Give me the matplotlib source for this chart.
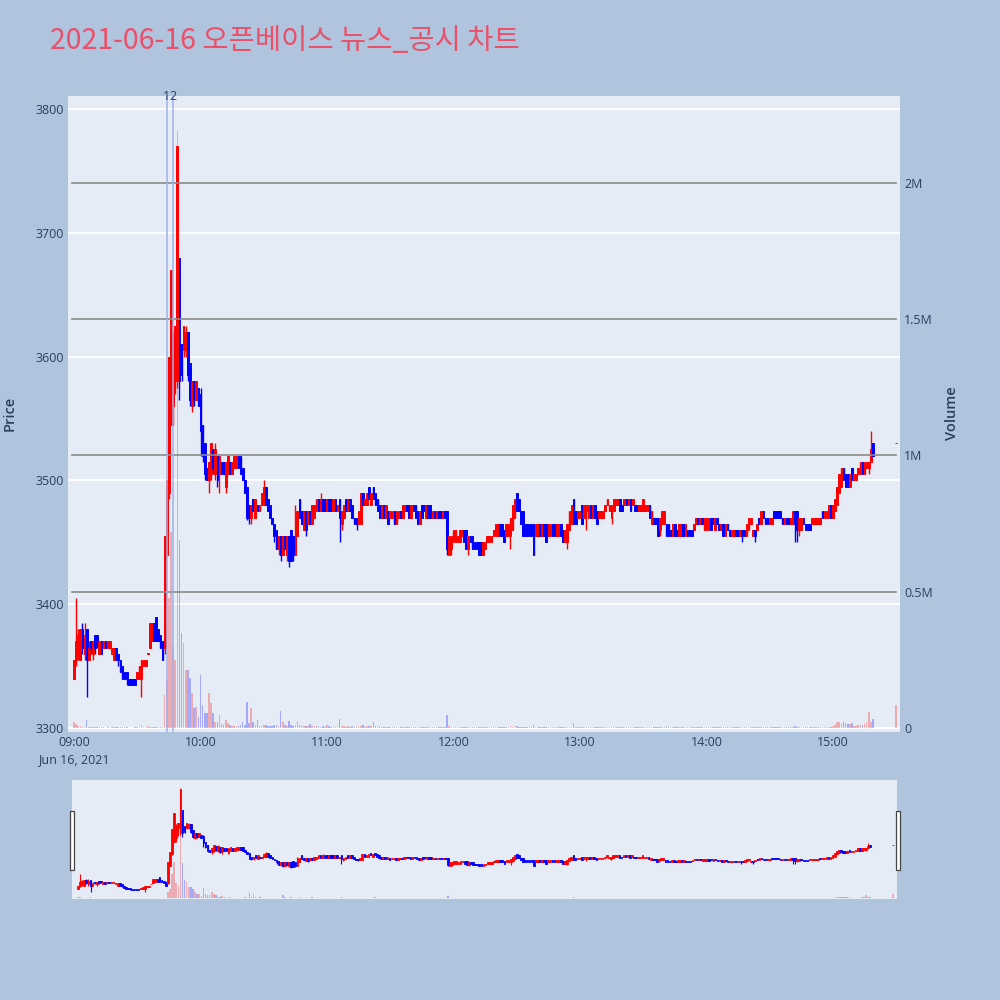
import matplotlib
matplotlib.use("Agg")
import matplotlib.pyplot as plt
from matplotlib.patches import Rectangle

# ---------------- data (minutes after 09:00) ----------------
minutes = list(range(0, 380)) + [390]

opens = [
3340,3355,3360,3355,3380,3360,3380,3355,3370,3360,3375,3375,3360,3370,3365,3370,3365,3365,3360,3355,
3365,3360,3355,3350,3345,3345,3340,3340,3340,3340,3340,3340,3340,3350,3350,3360,3365,3370,3385,3390,
3380,3375,3370,3365,3440,3490,3545,3560,3605,3580,3680,3610,3605,3605,3620,3595,3560,3580,3565,3575,
3570,3545,3530,3510,3500,3505,3525,3505,3520,3505,3515,3515,3495,3505,3515,3505,3510,3510,3520,3520,
3510,3500,3495,3480,3470,3485,3470,3480,3475,3480,3480,3495,3485,3480,3470,3465,3460,3445,3455,3440,
3455,3440,3455,3460,3455,3440,3455,3485,3475,3460,3475,3465,3475,3465,3470,3475,3485,3475,3485,3485,
3475,3485,3485,3475,3485,3475,3485,3465,3470,3485,3475,3485,3480,3470,3470,3465,3465,3490,3480,3480,
3495,3480,3495,3490,3485,3480,3470,3480,3470,3475,3470,3470,3475,3465,3470,3475,3470,3475,3480,3480,
3470,3480,3480,3475,3465,3480,3480,3470,3480,3480,3470,3475,3470,3475,3475,3470,3475,3475,3440,3445,
3450,3450,3450,3450,3455,3460,3460,3445,3455,3455,3450,3450,3450,3450,3440,3445,3450,3450,3450,3455,
3455,3455,3465,3465,3460,3455,3455,3455,3460,3470,3490,3485,3475,3475,3465,3465,3465,3465,3465,3455,
3455,3465,3455,3465,3465,3455,3455,3465,3465,3455,3455,3465,3460,3450,3450,3460,3465,3485,3475,3470,
3470,3480,3470,3475,3470,3480,3470,3480,3475,3470,3470,3470,3475,3480,3475,3470,3475,3480,3480,3485,
3480,3480,3485,3480,3485,3480,3480,3480,3475,3475,3475,3475,3475,3480,3465,3470,3470,3470,3460,3465,
3465,3465,3465,3460,3455,3465,3460,3455,3455,3465,3455,3460,3460,3460,3460,3465,3470,3465,3470,3460,
3460,3460,3470,3470,3460,3470,3465,3460,3465,3455,3465,3460,3455,3455,3460,3460,3455,3460,3460,3455,
3460,3465,3455,3460,3460,3470,3465,3475,3470,3470,3465,3465,3475,3475,3475,3475,3470,3465,3470,3470,
3465,3465,3475,3475,3460,3460,3470,3465,3465,3465,3465,3465,3465,3465,3465,3475,3470,3470,3470,3480,
3470,3475,3480,3490,3495,3510,3505,3505,3495,3510,3500,3500,3505,3505,3515,3505,3510,3510,3515,3530,
3530]

highs = [
3355,3405,3380,3380,3385,3385,3380,3370,3370,3370,3375,3375,3370,3370,3370,3370,3370,3370,3365,3365,
3365,3360,3355,3350,3345,3345,3340,3340,3340,3340,3345,3350,3355,3355,3355,3360,3385,3385,3385,3390,
3380,3375,3370,3455,3500,3600,3670,3620,3625,3770,3680,3610,3625,3625,3620,3595,3580,3580,3580,3575,
3575,3545,3530,3510,3515,3530,3525,3530,3520,3520,3515,3515,3515,3520,3515,3515,3520,3520,3520,3520,
3510,3500,3495,3480,3480,3485,3485,3480,3480,3490,3500,3495,3485,3480,3470,3465,3460,3455,3455,3455,
3455,3455,3455,3460,3455,3480,3475,3485,3475,3475,3475,3475,3475,3480,3480,3485,3485,3490,3485,3485,
3485,3485,3485,3485,3485,3480,3485,3475,3480,3485,3485,3485,3480,3470,3470,3475,3490,3490,3485,3490,
3495,3490,3495,3490,3485,3480,3480,3480,3480,3475,3475,3475,3475,3475,3475,3475,3480,3480,3480,3480,
3480,3480,3480,3475,3475,3480,3480,3480,3480,3480,3475,3475,3475,3475,3475,3475,3475,3475,3455,3455,
3460,3460,3455,3460,3460,3460,3460,3455,3455,3455,3450,3450,3450,3450,3450,3450,3455,3455,3455,3460,
3465,3465,3465,3465,3460,3465,3465,3470,3480,3485,3490,3485,3475,3475,3465,3465,3465,3465,3465,3465,
3465,3465,3465,3465,3465,3465,3465,3465,3465,3465,3465,3465,3460,3460,3465,3475,3480,3485,3475,3475,
3475,3480,3480,3480,3480,3480,3480,3480,3475,3475,3475,3475,3480,3485,3480,3480,3485,3485,3485,3485,
3480,3485,3485,3485,3485,3485,3480,3480,3480,3480,3485,3480,3480,3480,3475,3470,3470,3470,3470,3475,
3475,3465,3465,3460,3465,3465,3460,3465,3465,3465,3465,3460,3460,3460,3465,3470,3470,3470,3470,3470,
3470,3470,3470,3470,3470,3470,3465,3465,3465,3465,3465,3460,3460,3460,3460,3460,3460,3460,3460,3465,
3470,3470,3460,3460,3465,3470,3475,3475,3470,3470,3470,3470,3475,3475,3475,3475,3470,3470,3470,3470,
3470,3475,3475,3475,3470,3470,3470,3465,3465,3465,3470,3470,3470,3470,3470,3475,3475,3475,3480,3480,
3480,3485,3495,3505,3510,3510,3505,3505,3505,3510,3505,3505,3510,3515,3515,3515,3515,3515,3540,3530,
3530]

lows = [
3340,3350,3355,3355,3360,3355,3325,3355,3360,3355,3360,3365,3360,3360,3365,3365,3365,3365,3360,3355,
3355,3350,3345,3340,3340,3335,3335,3335,3335,3335,3340,3340,3325,3350,3350,3360,3365,3370,3370,3370,
3370,3365,3355,3360,3440,3485,3545,3545,3570,3575,3565,3580,3600,3600,3580,3560,3555,3560,3565,3560,
3520,3515,3500,3500,3490,3500,3505,3500,3495,3490,3505,3505,3490,3505,3505,3505,3510,3510,3510,3505,
3500,3490,3468,3465,3465,3475,3470,3475,3475,3480,3480,3480,3475,3470,3465,3450,3445,3440,3435,3440,
3445,3435,3430,3435,3435,3440,3455,3470,3465,3460,3455,3465,3465,3465,3470,3475,3475,3475,3475,3475,
3475,3475,3475,3475,3475,3475,3450,3460,3470,3475,3475,3475,3470,3465,3460,3465,3465,3480,3480,3480,
3485,3480,3485,3480,3475,3470,3470,3470,3470,3465,3470,3470,3465,3465,3470,3470,3470,3475,3475,3470,
3470,3475,3470,3465,3465,3470,3475,3470,3470,3470,3470,3470,3470,3470,3470,3470,3470,3440,3440,3440,
3450,3450,3450,3450,3455,3450,3445,3440,3450,3445,3445,3445,3440,3440,3440,3445,3450,3450,3450,3455,
3455,3455,3455,3455,3450,3455,3455,3445,3460,3470,3475,3475,3465,3455,3455,3455,3455,3455,3440,3455,
3455,3455,3455,3455,3450,3455,3455,3455,3455,3455,3455,3455,3450,3450,3445,3460,3465,3465,3465,3470,
3470,3465,3470,3460,3470,3470,3470,3470,3465,3470,3470,3470,3475,3480,3475,3465,3475,3480,3480,3475,
3475,3480,3480,3480,3475,3480,3475,3475,3475,3475,3475,3475,3475,3470,3465,3465,3465,3455,3455,3465,
3465,3455,3455,3455,3455,3455,3455,3455,3455,3455,3455,3455,3455,3455,3460,3465,3465,3465,3465,3460,
3460,3460,3460,3465,3460,3465,3460,3460,3455,3455,3460,3455,3455,3455,3455,3455,3455,3450,3455,3455,
3460,3465,3455,3450,3460,3465,3465,3470,3465,3465,3465,3465,3470,3470,3470,3470,3465,3465,3465,3465,
3465,3465,3450,3450,3455,3460,3465,3460,3460,3460,3465,3465,3465,3465,3465,3470,3470,3470,3470,3470,
3470,3475,3480,3490,3495,3500,3495,3495,3495,3500,3500,3500,3505,3505,3505,3505,3510,3505,3515,3520,
3530]

closes = [
3355,3370,3375,3380,3365,3375,3355,3365,3365,3370,3365,3370,3370,3360,3370,3365,3370,3370,3365,3365,
3355,3355,3345,3340,3340,3340,3335,3335,3335,3335,3345,3350,3355,3355,3355,3360,3385,3385,3370,3370,
3370,3365,3355,3455,3500,3600,3670,3605,3625,3770,3580,3585,3625,3620,3585,3565,3580,3565,3580,3560,
3540,3520,3505,3500,3515,3530,3510,3525,3500,3520,3505,3505,3515,3520,3505,3515,3520,3520,3510,3505,
3500,3490,3470,3470,3480,3475,3485,3475,3480,3490,3495,3480,3475,3470,3465,3455,3445,3455,3440,3455,
3445,3455,3435,3435,3440,3475,3475,3470,3465,3475,3460,3475,3465,3480,3480,3485,3475,3485,3475,3475,
3485,3475,3475,3485,3475,3480,3470,3475,3480,3475,3485,3475,3470,3465,3465,3475,3490,3480,3485,3490,
3485,3490,3485,3480,3475,3470,3480,3470,3480,3465,3475,3475,3465,3475,3475,3470,3480,3480,3475,3470,
3480,3475,3470,3465,3475,3470,3475,3480,3470,3470,3475,3470,3475,3470,3470,3475,3470,3445,3455,3455,
3460,3460,3455,3460,3460,3450,3445,3455,3450,3445,3445,3445,3440,3440,3450,3450,3455,3455,3455,3460,
3465,3465,3455,3455,3450,3465,3465,3470,3480,3485,3475,3475,3465,3455,3455,3455,3455,3455,3440,3465,
3465,3455,3465,3455,3450,3465,3465,3455,3455,3465,3465,3455,3450,3460,3465,3475,3480,3465,3465,3475,
3475,3465,3480,3480,3480,3470,3480,3470,3465,3475,3475,3475,3480,3485,3480,3480,3485,3485,3485,3475,
3475,3485,3480,3485,3475,3485,3475,3475,3480,3480,3485,3480,3480,3470,3475,3465,3465,3455,3470,3475,
3475,3455,3455,3455,3465,3455,3455,3465,3465,3455,3465,3455,3455,3455,3465,3470,3465,3470,3465,3470,
3470,3470,3460,3465,3470,3465,3460,3465,3455,3465,3460,3455,3460,3460,3455,3455,3460,3455,3455,3465,
3470,3470,3460,3455,3465,3465,3475,3470,3465,3465,3470,3470,3470,3470,3470,3470,3465,3470,3465,3465,
3470,3475,3465,3460,3470,3470,3465,3460,3460,3460,3470,3470,3470,3470,3470,3470,3475,3475,3480,3470,
3480,3485,3495,3505,3510,3500,3495,3495,3505,3500,3505,3505,3510,3515,3505,3515,3515,3515,3525,3520,
3530]

volumes = [
22000,15000,8000,6000,5000,4000,29000,5000,3000,3000,2000,3000,2000,2000,2000,1000,2000,1000,2000,3000,
2000,2000,3000,2000,2000,2000,1000,1000,1000,2000,2000,3000,12000,4000,3000,8000,5000,4000,3000,4000,
3000,2000,3000,121000,176000,478000,720000,300000,250000,2190000,690000,350000,312000,213000,213000,184000,129000,74000,77000,40000,
195000,85000,55000,55000,129000,92000,55000,22000,22000,48000,15000,12000,29000,18000,10000,8000,7000,6000,8000,10000,
22000,12000,96000,20000,74000,22000,10000,29000,8000,7000,10000,12000,8000,7000,6000,10000,12000,9000,62000,22000,
10000,8000,26000,12000,8000,10000,26000,10000,8000,7000,8000,6000,15000,8000,6000,7000,6000,5000,6000,5000,
11000,6000,5000,6000,5000,4000,33000,8000,6000,5000,6000,5000,6000,5000,5000,6000,8000,11000,5000,6000,
7000,6000,22000,6000,5000,6000,5000,4000,5000,4000,3000,4000,3000,4000,3000,3000,4000,3000,3000,4000,
3000,3000,4000,3000,4000,3000,3000,4000,3000,3000,3000,2000,3000,2000,3000,2000,3000,48000,6000,5000,
4000,3000,3000,4000,3000,3000,4000,3000,2000,3000,2000,3000,4000,3000,3000,2000,3000,2000,3000,3000,
4000,5000,3000,4000,3000,4000,5000,6000,5000,6000,7000,4000,3000,4000,3000,3000,3000,4000,11000,4000,
3000,3000,3000,2000,3000,3000,2000,3000,2000,3000,2000,3000,3000,2000,3000,4000,5000,18000,4000,3000,
3000,4000,3000,4000,3000,3000,3000,2000,3000,2000,3000,2000,3000,3000,2000,3000,3000,2000,3000,3000,
2000,3000,2000,3000,2000,3000,2000,3000,2000,3000,3000,2000,3000,2000,3000,2000,3000,3000,3000,2000,
3000,7000,2000,2000,3000,2000,2000,3000,2000,2000,3000,2000,2000,2000,3000,3000,2000,3000,2000,3000,
3000,2000,3000,2000,3000,2000,3000,2000,3000,2000,3000,2000,3000,2000,3000,2000,3000,3000,2000,3000,
3000,2000,3000,3000,2000,3000,3000,2000,3000,2000,3000,2000,4000,3000,4000,3000,4000,3000,2000,3000,
2000,3000,7000,3000,3000,2000,2000,3000,2000,2000,3000,2000,3000,2000,3000,2000,3000,3000,5000,4000,
6000,10000,22000,22000,15000,22000,18000,15000,15000,18000,8000,7000,10000,12000,10000,15000,22000,59000,22000,33000,
85000]

news_minutes = [44, 47]
news_labels = ["1", "2"]

price_ticks = [3300, 3400, 3500, 3600, 3700, 3800]
vol_ticks = [0, 500000, 1000000, 1500000, 2000000]
vol_tick_labels = ["0", "0.5M", "1M", "1.5M", "2M"]
time_ticks = [0, 60, 120, 180, 240, 300, 360]
time_tick_labels = ["09:00\nJun 16, 2021", "10:00", "11:00", "12:00", "13:00", "14:00", "15:00"]

title = "2021-06-16 오픈베이스 뉴스_공시 차트"

# ---------------- style ----------------
BG = "#B0C4DE"
PLOT_BG = "#E5ECF6"
UP = "#FF0000"
DOWN = "#0000FF"
TXT = "#2a3f5f"
XLIM = (-2.85, 391.8)
PLIM = (3296.8, 3810.5)
VLIM = (-14700, 2319000)

plt.rcParams['font.family'] = ['Open Sans', 'DejaVu Sans']

fig = plt.figure(figsize=(10, 10), dpi=100, facecolor=BG)


def draw(ax_v, ax_p, body_lw=0.7, wick_lw=1.0):
    cols = [UP if c >= o else DOWN for o, c in zip(opens, closes)]
    ax_v.bar(minutes, volumes, width=0.75, color=cols, alpha=0.28, linewidth=0, zorder=2)
    ax_p.vlines(minutes, lows, highs, colors=cols, linewidth=wick_lw, zorder=3)
    bottoms = [min(o, c) for o, c in zip(opens, closes)]
    heights = [max(abs(c - o), 0.6) for o, c in zip(opens, closes)]
    ax_p.bar(minutes, heights, bottom=bottoms, width=0.8, color=cols,
             edgecolor=cols, linewidth=body_lw, zorder=4)
    ax_v.set_xlim(*XLIM)
    ax_p.set_xlim(*XLIM)
    ax_v.set_ylim(*VLIM)
    ax_p.set_ylim(*PLIM)
    for a in (ax_v, ax_p):
        for s in a.spines.values():
            s.set_visible(False)


# ---------------- main chart ----------------
ax_v = fig.add_axes([0.068, 0.268, 0.832, 0.636])
ax_v.set_facecolor(PLOT_BG)
ax_p = ax_v.twinx()
ax_p.set_zorder(ax_v.get_zorder() + 1)
ax_p.patch.set_visible(False)

for t in price_ticks:
    ax_v.axhline(VLIM[0] + (t - PLIM[0]) / (PLIM[1] - PLIM[0]) * (VLIM[1] - VLIM[0]),
                 color="white", linewidth=1.3, zorder=0.5)

draw(ax_v, ax_p)

for t in vol_ticks[1:]:
    ax_p.axhline(PLIM[0] + (t - VLIM[0]) / (VLIM[1] - VLIM[0]) * (PLIM[1] - PLIM[0]),
                 xmin=0.005, xmax=0.995, color="#8a8a8a", linewidth=1.2, zorder=5)

for m, lab in zip(news_minutes, news_labels):
    ax_p.axvline(m, color="#9fb2ea", linewidth=1.1, zorder=6)
    ax_p.text(m, 1.0, lab, transform=ax_p.get_xaxis_transform(), ha="center",
              va="center", fontsize=9, color=TXT, zorder=7)

ax_p.yaxis.tick_left()
ax_p.set_yticks(price_ticks)
ax_p.set_yticklabels([str(t) for t in price_ticks])
ax_p.tick_params(axis="y", length=0, pad=3, labelsize=9, labelcolor=TXT)

ax_v.yaxis.tick_right()
ax_v.set_yticks(vol_ticks)
ax_v.set_yticklabels(vol_tick_labels)
ax_v.tick_params(axis="y", length=0, pad=3, labelsize=9, labelcolor=TXT)

fig.text(0.010, 0.587, "Price", rotation=90, ha="center", va="center",
         fontsize=10.5, color=TXT, fontweight="semibold")
fig.text(0.952, 0.587, "Volume", rotation=90, ha="center", va="center",
         fontsize=10.5, color=TXT, fontweight="semibold")

ax_v.set_xticks(time_ticks)
ax_v.set_xticklabels(time_tick_labels, linespacing=1.35)
ax_v.tick_params(axis="x", length=0, pad=3, labelsize=9, labelcolor=TXT)
ax_p.tick_params(axis="x", length=0, labelbottom=False)

# ---------------- range slider ----------------
rs_v = fig.add_axes([0.072, 0.101, 0.825, 0.119])
rs_v.set_facecolor(PLOT_BG)
rs_p = rs_v.twinx()
rs_p.patch.set_visible(False)
draw(rs_v, rs_p, body_lw=0.6, wick_lw=0.8)
for a in (rs_v, rs_p):
    a.set_xticks([])
    a.set_yticks([])

for hx in (0.0695, 0.8955):
    fig.add_artist(Rectangle((hx, 0.130), 0.004, 0.059, transform=fig.transFigure,
                             facecolor="white", edgecolor="#444444", linewidth=0.9))

# ---------------- title ----------------
fig.text(0.050, 0.959, title, fontsize=20.5, color="#E9506A",
         family=["Noto Sans CJK KR", "DejaVu Sans"], ha="left", va="center")

fig.savefig("out.png", dpi=100, facecolor=BG)
